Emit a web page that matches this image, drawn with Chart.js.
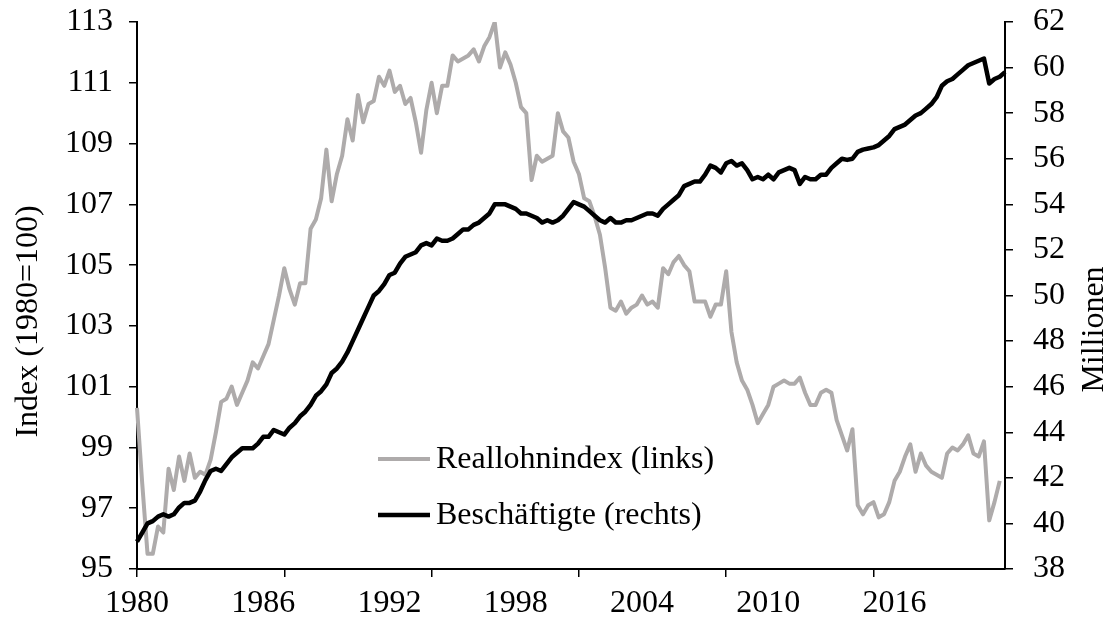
<!DOCTYPE html>
<html lang="de">
<head>
<meta charset="utf-8">
<title>Reallohnindex und Beschäftigte</title>
<script src="https://cdn.jsdelivr.net/npm/chart.js@4.4.1/dist/chart.umd.min.js"></script>
<style>
  html, body { margin: 0; padding: 0; background: #fff; }
  #grafik { display: block; }
</style>
</head>
<body>
<canvas id="grafik" width="1111" height="622"></canvas>
<script>
// Quartalsdaten ab 1980Q1
const startJahr = 1980;

const jahresMarken = ["1980", "1986", "1992", "1998", "2004", "2010", "2016"];
const indexTicks = [95, 97, 99, 101, 103, 105, 107, 109, 111, 113];
const millionenTicks = [38, 40, 42, 44, 46, 48, 50, 52, 54, 56, 58, 60, 62];

// Reallohnindex (links), 1980=100
const reallohnindex = [
    100.3, 97.8, 95.5, 95.5,     // 1980
    96.4, 96.2, 98.3, 97.6,      // 1981
    98.7, 97.9, 98.8, 98.0,      // 1982
    98.2, 98.1, 98.6, 99.5,      // 1983
    100.5, 100.6, 101.0, 100.4,  // 1984
    100.8, 101.2, 101.8, 101.6,  // 1985
    102.0, 102.4, 103.2, 104.0,  // 1986
    104.9, 104.2, 103.7, 104.4,  // 1987
    104.4, 106.2, 106.5, 107.2,  // 1988
    108.8, 107.1, 108.0, 108.6,  // 1989
    109.8, 109.1, 110.6, 109.7,  // 1990
    110.3, 110.4, 111.2, 110.9,  // 1991
    111.4, 110.7, 110.9, 110.3,  // 1992
    110.5, 109.7, 108.7, 110.1,  // 1993
    111.0, 110.0, 110.9, 110.9,  // 1994
    111.9, 111.7, 111.8, 111.9,  // 1995
    112.1, 111.7, 112.2, 112.5,  // 1996
    113.0, 111.5, 112.0, 111.6,  // 1997
    111.0, 110.2, 110.0, 107.8,  // 1998
    108.6, 108.4, 108.5, 108.6,  // 1999
    110.0, 109.4, 109.2, 108.4,  // 2000
    108.0, 107.2, 107.1, 106.6,  // 2001
    106.0, 104.9, 103.6, 103.5,  // 2002
    103.8, 103.4, 103.6, 103.7,  // 2003
    104.0, 103.7, 103.8, 103.6,  // 2004
    104.9, 104.7, 105.1, 105.3,  // 2005
    105.0, 104.8, 103.8, 103.8,  // 2006
    103.8, 103.3, 103.7, 103.7,  // 2007
    104.8, 102.8, 101.8, 101.2,  // 2008
    100.9, 100.4, 99.8, 100.1,   // 2009
    100.4, 101.0, 101.1, 101.2,  // 2010
    101.1, 101.1, 101.3, 100.8,  // 2011
    100.4, 100.4, 100.8, 100.9,  // 2012
    100.8, 99.9, 99.4, 98.9,     // 2013
    99.6, 97.1, 96.8, 97.1,      // 2014
    97.2, 96.7, 96.8, 97.2,      // 2015
    97.9, 98.2, 98.7, 99.1,      // 2016
    98.2, 98.8, 98.4, 98.2,      // 2017
    98.1, 98.0, 98.8, 99.0,      // 2018
    98.9, 99.1, 99.4, 98.8,      // 2019
    98.7, 99.2, 96.6, 97.2,      // 2020
    97.9                         // 2021
];

// Beschäftigte (rechts), Millionen
const beschaeftigte = [
    39.2, 39.6, 40.0, 40.1,      // 1980
    40.3, 40.4, 40.3, 40.4,      // 1981
    40.7, 40.9, 40.9, 41.0,      // 1982
    41.4, 41.9, 42.3, 42.4,      // 1983
    42.3, 42.6, 42.9, 43.1,      // 1984
    43.3, 43.3, 43.3, 43.5,      // 1985
    43.8, 43.8, 44.1, 44.0,      // 1986
    43.9, 44.2, 44.4, 44.7,      // 1987
    44.9, 45.2, 45.6, 45.8,      // 1988
    46.1, 46.6, 46.8, 47.1,      // 1989
    47.5, 48.0, 48.5, 49.0,      // 1990
    49.5, 50.0, 50.2, 50.5,      // 1991
    50.9, 51.0, 51.4, 51.7,      // 1992
    51.8, 51.9, 52.2, 52.3,      // 1993
    52.2, 52.5, 52.4, 52.4,      // 1994
    52.5, 52.7, 52.9, 52.9,      // 1995
    53.1, 53.2, 53.4, 53.6,      // 1996
    54.0, 54.0, 54.0, 53.9,      // 1997
    53.8, 53.6, 53.6, 53.5,      // 1998
    53.4, 53.2, 53.3, 53.2,      // 1999
    53.3, 53.5, 53.8, 54.1,      // 2000
    54.0, 53.9, 53.7, 53.5,      // 2001
    53.3, 53.2, 53.4, 53.2,      // 2002
    53.2, 53.3, 53.3, 53.4,      // 2003
    53.5, 53.6, 53.6, 53.5,      // 2004
    53.8, 54.0, 54.2, 54.4,      // 2005
    54.8, 54.9, 55.0, 55.0,      // 2006
    55.3, 55.7, 55.6, 55.4,      // 2007
    55.8, 55.9, 55.7, 55.8,      // 2008
    55.5, 55.1, 55.2, 55.1,      // 2009
    55.3, 55.1, 55.4, 55.5,      // 2010
    55.6, 55.5, 54.9, 55.2,      // 2011
    55.1, 55.1, 55.3, 55.3,      // 2012
    55.6, 55.8, 56.0, 55.95,     // 2013
    56.0, 56.3, 56.4, 56.45,     // 2014
    56.5, 56.6, 56.8, 57.0,      // 2015
    57.3, 57.4, 57.5, 57.7,      // 2016
    57.9, 58.0, 58.2, 58.4,      // 2017
    58.7, 59.2, 59.4, 59.5,      // 2018
    59.7, 59.9, 60.1, 60.2,      // 2019
    60.3, 60.4, 59.3, 59.5,      // 2020
    59.6, 59.8                   // 2021
];

// Kategorien: ein Eintrag pro Quartal
const quartale = [];
for (let i = 0; i < beschaeftigte.length; i++) {
    quartale.push((startJahr + Math.floor(i / 4)) + "Q" + (i % 4 + 1));
}

const schrift = "'Liberation Serif', 'Times New Roman', serif";
const groesse = 32;
const grau = "#aeabab";
const labelAbstand = 24;   // alle 6 Jahre eine Beschriftung
const strichAbstand = 28;  // Teilstriche alle 7 Jahre

// Achsentitel und Legende selbst zeichnen
const extras = {
    id: "extras",
    afterDraw(chart) {
        const c = chart.ctx;
        const ca = chart.chartArea;
        const mitte = (ca.top + ca.bottom) / 2;

        c.save();
        c.fillStyle = "#000";
        c.font = groesse + "px " + schrift;
        c.textAlign = "center";
        c.textBaseline = "middle";

        c.save();
        c.translate(29, mitte + 26);
        c.rotate(-Math.PI / 2);
        c.fillText("Index (1980=100)", 0, 0);
        c.restore();

        c.save();
        c.translate(1095, mitte + 34);
        c.rotate(-Math.PI / 2);
        c.fillText("Millionen", 0, 0);
        c.restore();

        // Legende
        const eintraege = [
            { text: "Reallohnindex (links)", farbe: grau, breite: 4, y: 459 },
            { text: "Beschäftigte (rechts)", farbe: "#000000", breite: 4.5, y: 515 }
        ];
        c.textAlign = "left";
        eintraege.forEach(e => {
            c.beginPath();
            c.strokeStyle = e.farbe;
            c.lineWidth = e.breite;
            c.moveTo(378, e.y);
            c.lineTo(430, e.y);
            c.stroke();
            c.fillText(e.text, 436, e.y + 1);
        });
        c.restore();
    }
};

// y-Achsen: feste Breite, kein Zusatzabstand oben/unten
function festeBreite(breite) {
    return function (s) {
        s.width = breite;
        s.paddingTop = 0;
        s.paddingBottom = 0;
    };
}

const ctx = document.getElementById("grafik");

new Chart(ctx, {
    type: "line",
    data: {
        labels: quartale,
        datasets: [
            {
                label: "Beschäftigte (rechts)",
                data: beschaeftigte,
                yAxisID: "y1",
                borderColor: "#000000",
                borderWidth: 4.5,
                pointRadius: 0,
                borderJoinStyle: "round",
                tension: 0,
                order: 0
            },
            {
                label: "Reallohnindex (links)",
                data: reallohnindex,
                yAxisID: "y",
                borderColor: grau,
                borderWidth: 4,
                pointRadius: 0,
                borderJoinStyle: "round",
                tension: 0,
                order: 1
            }
        ]
    },
    options: {
        responsive: false,
        animation: false,
        layout: { padding: { top: 22, left: 0, right: 0, bottom: 0 } },
        plugins: {
            legend: { display: false },
            tooltip: { enabled: false }
        },
        scales: {
            x: {
                type: "category",
                afterFit(s) { s.height = 53; },
                border: { display: true, color: "#000", width: 2 },
                grid: {
                    drawOnChartArea: false,
                    tickLength: 8,
                    lineWidth: 1.5,
                    color: c => c.index % strichAbstand === 0 ? "#000" : "rgba(0,0,0,0)",
                    tickColor: c => c.index % strichAbstand === 0 ? "#000" : "rgba(0,0,0,0)"
                },
                ticks: {
                    autoSkip: false,
                    maxRotation: 0,
                    minRotation: 0,
                    padding: 7,
                    color: "#000",
                    font: { family: schrift, size: groesse },
                    callback: (wert, i) => i % labelAbstand === 0 ? jahresMarken[i / labelAbstand] : ""
                }
            },
            y: {
                position: "left",
                min: indexTicks[0],
                max: indexTicks[indexTicks.length - 1],
                afterFit: festeBreite(137),
                border: { display: true, color: "#000", width: 2 },
                grid: { drawOnChartArea: false, tickLength: 8, lineWidth: 1.5, color: "#000" },
                ticks: {
                    stepSize: indexTicks[1] - indexTicks[0],
                    padding: 16,
                    color: "#000",
                    font: { family: schrift, size: groesse }
                }
            },
            y1: {
                position: "right",
                min: millionenTicks[0],
                max: millionenTicks[millionenTicks.length - 1],
                afterFit: festeBreite(106),
                border: { display: true, color: "#000", width: 2 },
                grid: { drawOnChartArea: false, tickLength: 8, lineWidth: 1.5, color: "#000" },
                ticks: {
                    stepSize: millionenTicks[1] - millionenTicks[0],
                    padding: 20,
                    color: "#000",
                    font: { family: schrift, size: groesse }
                }
            }
        }
    },
    plugins: [extras]
});
</script>
</body>
</html>
